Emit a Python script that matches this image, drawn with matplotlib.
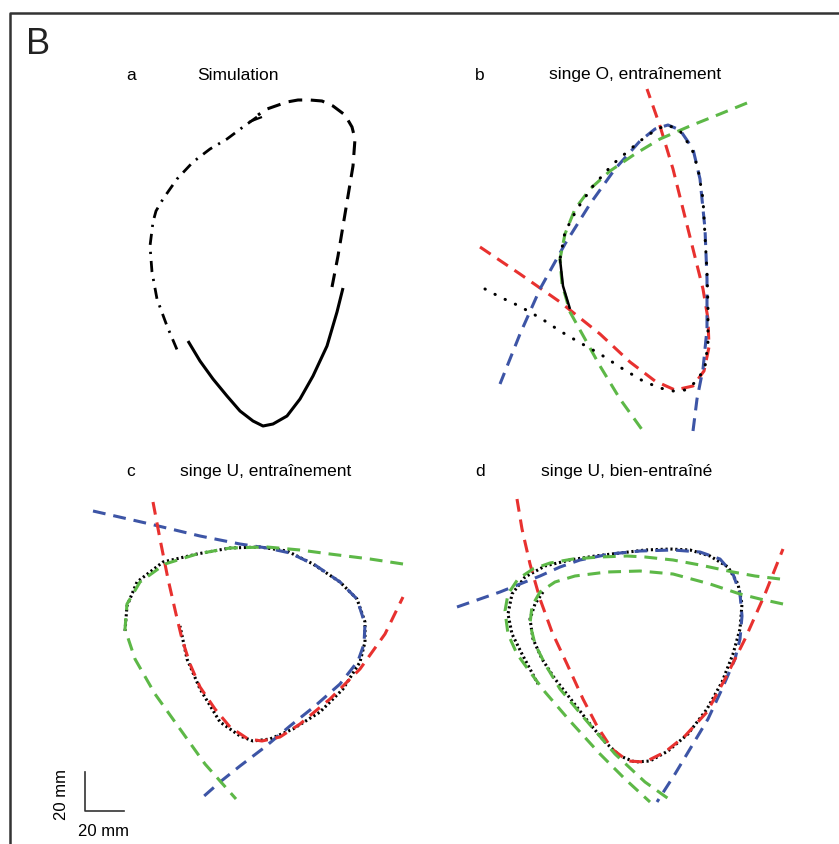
import numpy as np
import matplotlib.pyplot as plt

plt.rcParams['font.family'] = ['Liberation Sans', 'DejaVu Sans']

# Trajectoires (coordonnees en pixels de l'image)
# --- panneau a : simulation
a_plein = [(188, 342), (200, 362), (213, 380), (227, 397), (240, 412), (253, 422),
           (263, 427), (273, 425), (287, 417), (300, 400), (313, 377), (327, 347),
           (337, 313), (343, 289)]
a_tirets = [(332, 288), (338, 257), (343, 227), (348, 197), (353, 167), (355, 140),
            (352, 128), (345, 116), (333, 107), (322, 102), (310, 101), (298, 101),
            (287, 103), (267, 110), (258, 116)]
a_double = [(249, 123), (262, 118)]
a_mixte = [(257, 118), (243, 128), (227, 140), (210, 150), (193, 163), (177, 180),
           (163, 200), (156, 212), (153, 223), (150, 247), (152, 273), (157, 300),
           (167, 327), (178, 353)]

# --- panneau b : singe O, entrainement
b_traj = [(485, 290), (500, 298), (515, 305), (530, 313), (545, 322), (560, 332),
          (577, 342), (600, 355), (623, 370), (643, 382), (660, 389), (673, 392),
          (685, 391), (697, 382), (705, 368), (708, 343), (708, 310), (707, 273),
          (705, 237), (703, 200), (698, 170), (692, 150), (680, 132), (668, 126),
          (657, 130), (640, 142), (613, 165), (593, 187), (577, 210), (565, 233),
          (560, 260)]
b_fin = [(560, 260), (563, 287), (570, 310)]
b_rouge = [(480, 248), (520, 275), (560, 303), (600, 335), (630, 363), (655, 382),
           (675, 391), (693, 387), (704, 372), (709, 348), (708, 320), (703, 290),
           (693, 250), (683, 210), (673, 170), (660, 127), (647, 90)]
b_bleu = [(693, 432), (697, 400), (703, 370), (707, 330), (707, 280), (705, 230),
          (700, 180), (693, 150), (680, 131), (668, 126), (655, 130), (640, 142),
          (615, 170), (590, 205), (565, 245), (540, 290), (520, 335), (500, 385)]
b_vert = [(747, 104), (720, 115), (690, 127), (660, 140), (635, 155), (610, 172),
          (590, 190), (575, 210), (565, 235), (560, 260), (562, 285), (570, 313),
          (585, 340), (600, 367), (620, 400), (643, 432)]

# --- panneau c : singe U, entrainement
c_traj = [(125, 632), (127, 607), (137, 583), (163, 563), (197, 555), (230, 549),
          (260, 548), (287, 552), (313, 565), (340, 583), (357, 600), (365, 623),
          (365, 643), (360, 663), (343, 690), (320, 713), (293, 730), (270, 740),
          (253, 742), (240, 737), (220, 723), (200, 690), (187, 660), (180, 627)]
c_bleu = [(93, 512), (150, 525), (200, 537), (240, 545), (267, 549), (290, 554),
          (315, 566), (340, 583), (357, 600), (365, 625), (364, 645), (358, 662),
          (340, 685), (315, 707), (290, 727), (265, 748), (240, 767), (220, 783),
          (203, 798)]
c_rouge = [(153, 503), (160, 540), (168, 580), (176, 615), (182, 640), (190, 665),
           (200, 688), (215, 710), (230, 728), (248, 740), (262, 742), (280, 738),
           (300, 725), (330, 700), (360, 670), (385, 635), (403, 598)]
c_vert = [(403, 565), (370, 560), (330, 555), (300, 551), (267, 548), (230, 549),
          (197, 555), (165, 565), (140, 583), (127, 605), (125, 630), (135, 660),
          (155, 695), (180, 730), (205, 765), (236, 800)]

# --- panneau d : singe U, bien-entraine
d_traj = [(543, 593), (535, 605), (530, 620), (533, 640), (542, 660), (555, 680),
          (573, 703), (590, 725), (605, 743), (620, 757), (635, 763), (650, 762),
          (668, 752), (688, 735), (707, 710), (722, 683), (733, 655), (740, 630),
          (742, 605), (738, 585), (728, 568), (710, 557), (690, 551), (670, 550),
          (645, 551), (620, 554), (595, 557), (570, 561), (545, 567), (525, 578),
          (512, 595), (508, 615), (512, 635), (522, 655), (538, 685)]
d_bleu = [(457, 608), (480, 600), (500, 593), (520, 585), (540, 577), (560, 568),
          (580, 561), (610, 555), (640, 552), (673, 551), (700, 553), (720, 560),
          (733, 575), (740, 595), (742, 617), (740, 640), (735, 660), (722, 690),
          (708, 720), (693, 745), (675, 775), (657, 803)]
d_rouge = [(517, 500), (522, 530), (530, 565), (540, 600), (552, 633), (567, 665),
           (583, 700), (597, 727), (612, 750), (628, 762), (645, 763), (665, 753),
           (685, 737), (707, 713), (725, 680), (745, 640), (765, 595), (783, 550)]
d_vert1 = [(780, 580), (755, 577), (733, 573), (700, 566), (673, 561), (645, 558),
           (627, 557), (600, 558), (573, 560), (550, 564), (533, 570), (518, 580),
           (508, 595), (505, 612), (508, 635), (517, 655), (530, 673), (545, 693),
           (570, 722), (600, 755), (625, 780), (650, 803)]
d_vert2 = [(783, 605), (760, 600), (740, 595), (710, 585), (673, 575), (640, 572),
           (607, 573), (575, 577), (555, 583), (540, 593), (532, 607), (530, 625),
           (535, 645), (545, 665), (560, 690), (585, 720), (615, 755), (645, 783),
           (673, 803)]

lettres = ['a', 'b', 'c', 'd']
titres = ['Simulation', 'singe O, entraînement', 'singe U, entraînement',
          'singe U, bien-entraîné']

ROUGE = '#e8312f'
BLEU = '#3d55a6'
VERT = '#5db847'


def trace(ax, pts, cap='butt', **kw):
    p = np.array(pts, dtype=float)
    ax.plot(p[:, 0], p[:, 1], solid_capstyle='butt', dash_capstyle=cap,
            solid_joinstyle='round', **kw)


fig = plt.figure(figsize=(8.39, 8.45), dpi=100)
ax = fig.add_axes([0, 0, 1, 1])
ax.set_xlim(0, 839)
ax.set_ylim(845, 0)
ax.axis('off')

# cadre
ax.plot([10, 10, 839], [845, 14, 14], color='#333333', lw=1.8)
ax.text(26, 45, 'B', fontsize=26, va='center', ha='left', color='#222222')

# titres des panneaux
pos_lettre = [(131, 75), (480, 75), (131, 472), (480, 472)]
pos_titre = [(238, 75), (635, 75), (266, 472), (627, 472)]
for l, t, pl, pt in zip(lettres, titres, pos_lettre, pos_titre):
    ax.text(pl[0], pl[1], l, fontsize=12.5, ha='center', va='center')
    ax.text(pt[0], pt[1], t, fontsize=12.5, ha='center', va='center')

# panneau a
trace(ax, a_plein, color='black', lw=2.2)
trace(ax, a_tirets, color='black', lw=2.2, dashes=(4.5, 2.8))
trace(ax, a_double, color='black', lw=1.6)
trace(ax, a_mixte, color='black', lw=2.0, dashes=(4.0, 2.5, 0.8, 2.5))

# panneau b : points noirs par-dessus
dash = (4.2, 2.6)
trace(ax, b_rouge, color=ROUGE, lw=2.2, dashes=dash)
trace(ax, b_bleu, color=BLEU, lw=2.2, dashes=dash)
trace(ax, b_vert, color=VERT, lw=2.2, dashes=dash)
trace(ax, b_traj, cap='round', color='black', lw=2.2, dashes=(0.1, 3.6))
trace(ax, b_fin, color='black', lw=1.8)

# panneaux c et d : trajectoire pointillee dessous
for traj, lignes in [(c_traj, [(c_bleu, BLEU), (c_rouge, ROUGE), (c_vert, VERT)]),
                     (d_traj, [(d_bleu, BLEU), (d_rouge, ROUGE),
                               (d_vert1, VERT), (d_vert2, VERT)])]:
    trace(ax, traj, color='black', lw=2.2, dashes=(0.7, 0.9))
    for pts, c in lignes:
        trace(ax, pts, color=c, lw=2.2, dashes=dash)

# echelle
ax.plot([85, 85, 124], [773, 812, 812], color='#333333', lw=1.2)
ax.text(62, 795, '20 mm', fontsize=12, rotation=90, ha='center', va='center')
ax.text(103, 832, '20 mm', fontsize=12, ha='center', va='center')

fig.savefig('out.png', dpi=100)
